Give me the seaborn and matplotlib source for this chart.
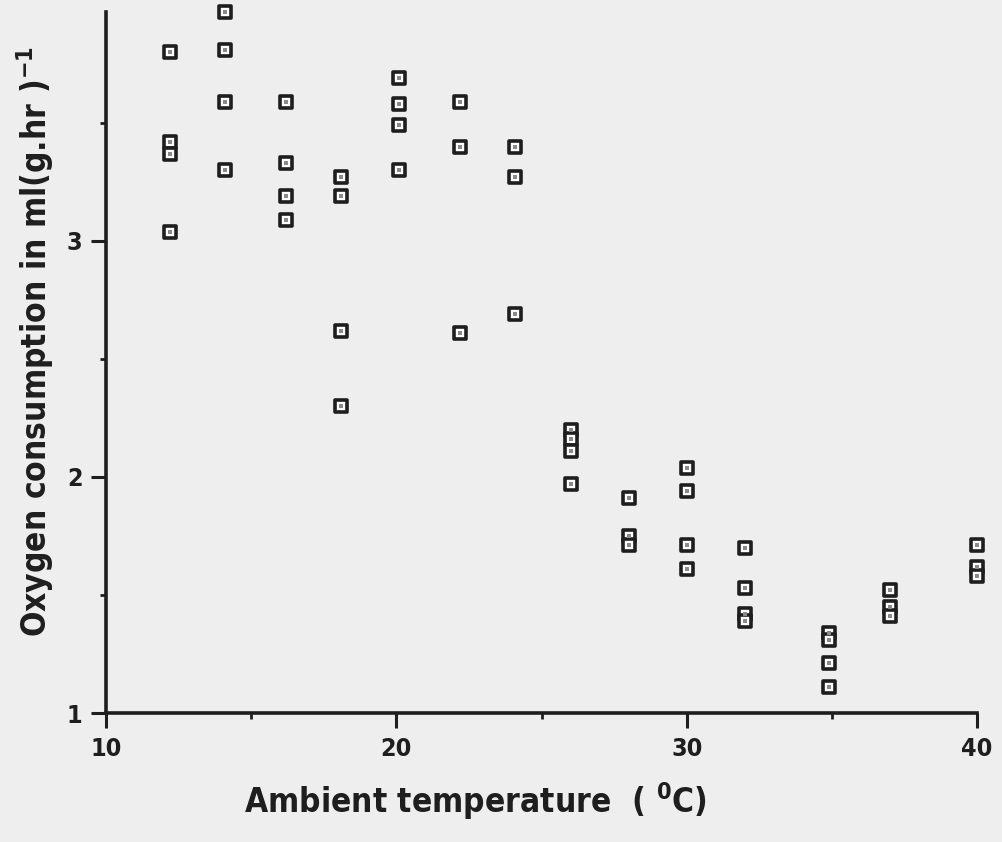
import pandas as pd
import matplotlib.pyplot as plt
import seaborn as sns
from matplotlib.ticker import MultipleLocator

# --- Data ---
temp_c = [12.2, 12.2, 12.2, 12.2,
          14.1, 14.1, 14.1, 14.1,
          16.2, 16.2, 16.2, 16.2,
          18.1, 18.1, 18.1, 18.1,
          20.1, 20.1, 20.1, 20.1,
          22.2, 22.2, 22.2,
          24.1, 24.1, 24.1,
          26, 26, 26, 26,
          28, 28, 28,
          30, 30, 30, 30,
          32, 32, 32, 32,
          34.9, 34.9, 34.9, 34.9,
          37, 37, 37,
          40, 40, 40]
o2_uptake = [3.80, 3.42, 3.37, 3.04,
             3.97, 3.81, 3.59, 3.30,
             3.59, 3.33, 3.19, 3.09,
             3.27, 3.19, 2.62, 2.30,
             3.69, 3.58, 3.49, 3.30,
             3.59, 3.40, 2.61,
             3.40, 3.27, 2.69,
             2.20, 2.16, 2.11, 1.97,
             1.91, 1.75, 1.71,
             2.04, 1.94, 1.71, 1.61,
             1.70, 1.53, 1.42, 1.39,
             1.34, 1.31, 1.21, 1.11,
             1.52, 1.45, 1.41,
             1.71, 1.62, 1.58]

x_major = [10, 20, 30, 40]
y_major = [1, 2, 3]

df = pd.DataFrame({"temp": temp_c, "o2": o2_uptake})

# --- Style ---
sns.set_style("ticks")
plt.rcParams["font.family"] = ["DejaVu Sans"]
plt.rcParams["font.stretch"] = "condensed"
plt.rcParams["font.weight"] = "bold"
plt.rcParams["axes.labelweight"] = "bold"
plt.rcParams["mathtext.default"] = "bf"
ink = "#1e1e1e"
paper = "#eeeeee"

fig = plt.figure(figsize=(10.03, 8.42), dpi=100, facecolor=paper)
ax = fig.add_axes([0.1057, 0.1532, 0.8685, 0.8325])
ax.set_facecolor(paper)

# --- Plot ---
sns.scatterplot(data=df, x="temp", y="o2", marker="s", s=80,
                facecolor="white", edgecolor=ink, linewidth=2.6,
                clip_on=False, zorder=3, ax=ax)
sns.scatterplot(data=df, x="temp", y="o2", marker="s", s=6,
                color="#8a8a8a", linewidth=0, clip_on=False, zorder=4, ax=ax)

ax.set_xlim(10, 40)
ax.set_ylim(1, 3.97)
ax.set_xticks(x_major)
ax.set_yticks(y_major)
ax.xaxis.set_minor_locator(MultipleLocator(5))
ax.yaxis.set_minor_locator(MultipleLocator(0.5))
ax.tick_params(which="major", direction="out", length=11, width=2.2,
               color=ink, labelcolor=ink, labelsize=18, pad=6)
ax.tick_params(which="minor", direction="out", length=4, width=2, color=ink)

for side in ["top", "right"]:
    ax.spines[side].set_visible(False)
for side in ["left", "bottom"]:
    ax.spines[side].set_linewidth(2.6)
    ax.spines[side].set_color(ink)

ax.set_xlabel(r"Ambient temperature  ( $^{0}$C)", fontsize=24,
              fontweight="bold", color=ink, labelpad=14)
ax.set_ylabel(r"Oxygen consumption in ml(g.hr )$^{-1}$", fontsize=24,
              fontweight="bold", color=ink, labelpad=8)
ax.xaxis.label.set_x(0.424)
ax.yaxis.label.set_y(0.53)

plt.savefig("out.png", dpi=100, facecolor=paper)
